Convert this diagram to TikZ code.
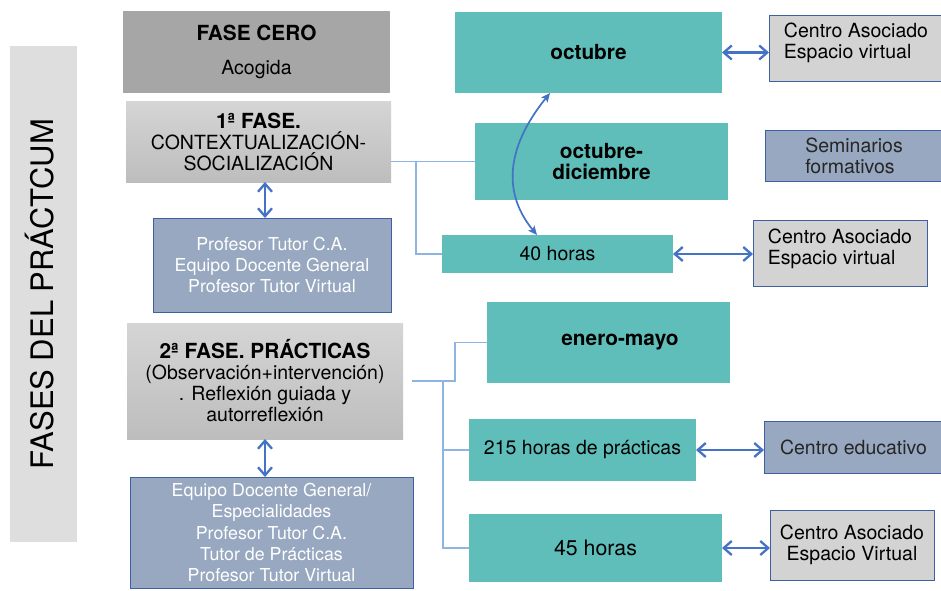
\documentclass[tikz,border=0pt]{standalone}
\usepackage{fontspec}
\setmainfont{TeX Gyre Heros}
\usetikzlibrary{arrows.meta}

\definecolor{barragris}{RGB}{222,222,222}
\definecolor{cerogris}{RGB}{166,166,166}
\definecolor{faseTop}{RGB}{213,213,213}
\definecolor{faseBottom}{RGB}{189,189,189}
\definecolor{periodoverde}{RGB}{95,190,185}
\definecolor{agenteazul}{RGB}{151,168,192}
\definecolor{bordeazul}{RGB}{63,95,165}
\definecolor{lugargris}{RGB}{211,211,211}
\definecolor{flechaazul}{RGB}{68,114,196}
\definecolor{ramaazul}{RGB}{141,180,226}

\newcommand{\negrita}[1]{{\fontsize{20.8}{21}\selectfont\bfseries #1}}

\begin{document}
\begin{tikzpicture}[
    % 定義樣式
    x=1pt, y=-1pt,
    box/.style={inner sep=0pt, outer sep=0pt, align=center, font=\fontsize{19.5}{21}\selectfont},
    fase/.style={box, top color=faseTop, bottom color=faseBottom},
    periodo/.style={box, fill=periodoverde},
    agente/.style={box, fill=agenteazul, draw=bordeazul, line width=0.8pt, text=white, font=\fontsize{17.8}{21.3}\selectfont},
    lugar/.style={box, fill=lugargris, draw=bordeazul, line width=0.8pt},
    seminario/.style={box, fill=agenteazul, draw=bordeazul, line width=0.8pt, text=black!85},
    rama/.style={draw=ramaazul, line width=1.2pt},
    enlace/.style={draw=flechaazul, line width=2.3pt, {Straight Barb[length=8pt,width=14pt]}-{Straight Barb[length=8pt,width=14pt]}},
    curva/.style={draw=flechaazul, line width=1.7pt, {Stealth[length=9pt,width=8pt,inset=2pt]}-{Stealth[length=9pt,width=8pt,inset=2pt]}}
]

    % 畫布大小
    \fill[white, use as bounding box] (0,0) rectangle (941,590);
    \clip (0,0) rectangle (941,590);

    % --- 1. 左側標題 ---
    \node[box, fill=barragris, rotate=90, minimum width=496pt, minimum height=67pt, text depth=8pt,
          font=\fontsize{31}{31}\selectfont] (titulo) at (43.5,294) {FASES DEL PRÁCTCUM};

    % --- 2. 各階段 (Fases) ---
    \node[box, fill=cerogris, minimum width=267pt, minimum height=82pt] (cero) at (256.5,52)
        {\negrita{FASE CERO}\\[13pt]Acogida};
    \node[fase, minimum width=265pt, minimum height=81pt] (f1) at (258.5,141.5)
        {\negrita{1ª FASE.}\\CONTEXTUALIZACIÓN-\\SOCIALIZACIÓN};
    \node[agente, minimum width=238pt, minimum height=94pt] (ag1) at (272,265)
        {Profesor Tutor C.A.\\Equipo Docente General\\Profesor Tutor Virtual};
    \node[fase, minimum width=276pt, minimum height=116pt] (f2) at (265,381)
        {\negrita{2ª FASE. PRÁCTICAS}\\(Observación+intervención)\\. Reflexión guiada y\\autorreflexión};
    \node[agente, minimum width=283pt, minimum height=111pt] (ag2) at (271.5,532.5)
        {Equipo Docente General/\\Especialidades\\Profesor Tutor C.A.\\Tutor de Prácticas\\Profesor Tutor Virtual};

    % --- 3. 時間 (Periodos) ---
    \node[periodo, minimum width=267pt, minimum height=81pt] (oct) at (588.5,52.5) {\negrita{octubre}};
    \node[periodo, minimum width=253pt, minimum height=77pt] (octdic) at (601.5,161.5) {\negrita{octubre-}\\\negrita{diciembre}};
    \node[periodo, minimum width=231pt, minimum height=38pt] (h40) at (557.5,254) {40 horas};
    \node[periodo, minimum width=243pt, minimum height=81pt] (em) at (608.5,342.5) {\hspace*{23pt}\negrita{enero-mayo}};
    \node[periodo, minimum width=227pt, minimum height=62pt] (h215) at (582.5,450) {215 horas de prácticas};
    \node[periodo, minimum width=253pt, minimum height=68pt, font=\fontsize{21.3}{23}\selectfont] (h45) at (595.5,548) {45 horas};

    % --- 4. 地點 (Lugares) ---
    \node[lugar, align=left, text depth=14pt, minimum width=174pt, minimum height=66pt] (ca1) at (856,48)
        {Centro Asociado\\Espacio virtual};
    \node[seminario, align=left, minimum width=178pt, minimum height=51pt] (sem) at (854,156)
        {Seminarios\\formativos};
    \node[lugar, align=left, text depth=13pt, minimum width=174pt, minimum height=66pt] (ca2) at (840,253)
        {Centro Asociado\\Espacio virtual};
    \node[seminario, minimum width=179pt, minimum height=52pt] (ced) at (853.5,447) {Centro educativo};
    \node[lugar, minimum width=164pt, minimum height=70pt] (ca3) at (852,545)
        {Centro Asociado\\Espacio Virtual};

    % --- 5. 連接線 ---
    \draw[rama] (f1.east |- octdic.west) -- (octdic.west);
    \draw[rama] ([xshift=25pt]f1.east |- octdic.west) |- (h40.west);
    \draw[rama] ([xshift=9pt]f2.east) -- ++(43,0) |- (em.west);
    \foreach \dest in {h215,h45}
        \draw[rama] ([xshift=40pt]f2.east) |- (\dest.west);

    % 雙向箭頭
    \draw[enlace] ([xshift=6.5pt]f1.south) -- ([xshift=-7pt]ag1.north);
    \draw[enlace] (f2.south) -- (f2.south |- ag2.north);
    \foreach \source/\dest in {oct/ca1, h40/ca2, h215/ced, h45/ca3}
        \draw[enlace] (\source.east) -- (\source.east -| \dest.west);
    \draw[curva] ([xshift=-38.5pt]oct.south) .. controls (504,150) and (504,195) .. ([xshift=-20.5pt]h40.north);

\end{tikzpicture}
\end{document}
